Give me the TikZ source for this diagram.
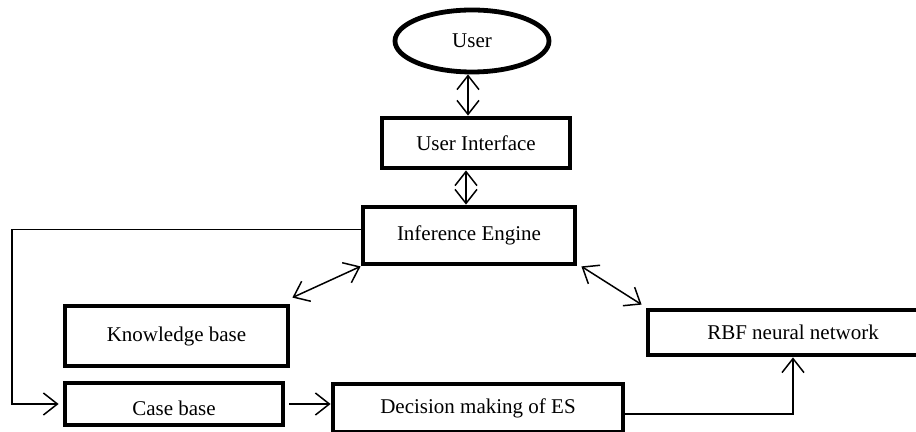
\documentclass[tikz,border=0pt]{standalone}
\usepackage{fontspec}
\setmainfont{Liberation Serif}
\usetikzlibrary{positioning, calc, arrows.meta, shapes.geometric}

\begin{document}
\begin{tikzpicture}[
        x=0.5pt, y=-0.5pt,
        every node/.style={font=\fontsize{10.5}{12}\selectfont},
        box/.style={draw, line width=2.4pt, align=center, inner sep=2pt},
        user/.style={draw, ellipse, line width=2.4pt, minimum width=77pt, minimum height=31pt},
        link/.style={line width=0.75pt, arrows={-Straight Barb[length=7pt, width=11pt]}},
        dlink/.style={line width=0.75pt, arrows={Straight Barb[length=7pt, width=11pt]-Straight Barb[length=7pt, width=11pt]}}
    ]
        \useasboundingbox (0,0) rectangle (916,432);

        % Nodes
        \node[user] (usr) at (472,41) {User};
        \node[box, minimum width=94pt, minimum height=25pt] (ui) at (476,143) {User Interface};
        \node[box, minimum width=106pt, minimum height=28.5pt] (ie) at (469,235.5) {Inference Engine};
        \node[box, minimum width=111.5pt, minimum height=30pt] (kb) at (176.5,336) {Knowledge base};
        \node[box, minimum width=109pt, minimum height=21pt, text height=12pt, text depth=0pt] (cb) at (174,404) {Case base};
        \node[box, minimum width=145pt, minimum height=24pt] (dm) at (478,408) {Decision making of ES};
        \node[box, minimum width=145pt, minimum height=22.5pt] (rbf) at (793,332.5) {RBF neural network};
        \coordinate (loop) at (12,0);

        % Arrows
        \draw[dlink] ([xshift=-2pt]usr.south) -- ([xshift=-2pt]usr.south |- ui.north);
        \draw[dlink] ([xshift=-5pt]ui.south) -- ([xshift=-5pt]ui.south |- ie.north);
        \draw[dlink] (ie.south west) -- ([shift={(1pt,3pt)}]kb.north east);
        \draw[dlink] ([xshift=2pt]ie.south east) -- ([shift={(-2pt,1.5pt)}]rbf.north west);
        \draw[link] ([yshift=3pt]ie.west) -- ([yshift=3pt]ie.west -| loop) |- ([xshift=-2pt]cb.west);
        \draw[link] ([xshift=2pt]cb.east) -- (cb.east -| dm.west);
        \draw[link] ([yshift=-3pt]dm.east) -| (rbf.south);
    \end{tikzpicture}
\end{document}
